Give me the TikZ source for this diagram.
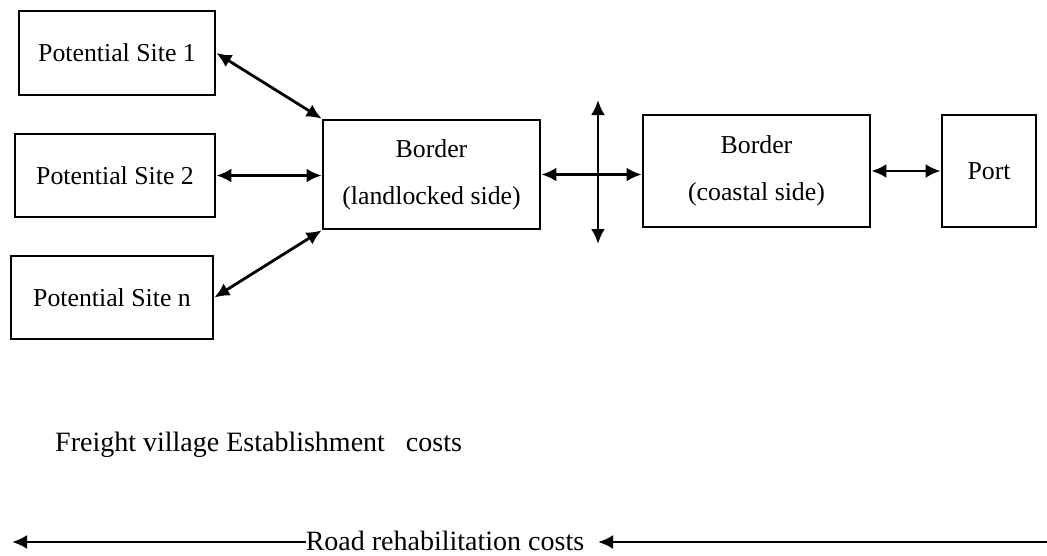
\documentclass[tikz,border=0pt]{standalone}
\usepackage{fontspec}
\setmainfont{Liberation Serif}
\usetikzlibrary{arrows.meta}
\begin{document}
\begin{tikzpicture}[x=1pt,y=-1pt,
  box/.style={draw,line width=2.8pt,inner sep=0pt,align=center,font=\fontsize{25.8}{30}\selectfont},
  conn/.style={line width=2.8pt,{Latex[length=15pt,width=14pt]}-{Latex[length=15pt,width=14pt]}},
  oneway/.style={line width=2.8pt,-{Latex[length=15pt,width=14pt]}},
  lbl/.style={inner sep=0pt,font=\fontsize{28}{32}\selectfont}]
\useasboundingbox (0,0) rectangle (1047,555);
\node[box,minimum width=196pt,minimum height=84pt] (s1) at (117,53) {Potential Site 1};
\node[box,minimum width=200pt,minimum height=83pt] (s2) at (115,175.5) {Potential Site 2};
\node[box,minimum width=202pt,minimum height=83pt] (sn) at (112,297.5) {Potential Site n};
\node[box,minimum width=217pt,minimum height=109pt] (bl) at (431.5,174.5) {Border\\[17pt](landlocked side)};
\node[box,minimum width=227pt,minimum height=112pt] (bc) at (756.5,171) {Border\\[17pt](coastal side)};
\node[box,minimum width=94pt,minimum height=112pt] (pt) at (989,171) {Port};
\draw[conn] (s1.east) -- (bl.north west);
\draw[conn] (s2.east) -- (s2.east -| bl.west);
\draw[conn] (sn.east) -- (bl.south west);
\draw[conn] (bl.east) -- (bl.east -| bc.west);
\coordinate (vt) at (598,100);
\coordinate (vb) at (598,244);
\draw[conn] (vt) -- (vb);
\draw[conn] (bc.east) -- (bc.east -| pt.west);
\node[lbl,anchor=west] (fv) at (55,445) {Freight village Establishment \ \ costs};
\node[lbl,anchor=base] (road) at (445,550) {Road rehabilitation costs};
\coordinate (lend) at (12,542);
\coordinate (rend) at (1047,542);
\coordinate (rtip) at (598,542);
\draw[oneway] (road.west |- lend) -- (lend);
\draw[oneway] (rend) -- (rtip);
\end{tikzpicture}
\end{document}
